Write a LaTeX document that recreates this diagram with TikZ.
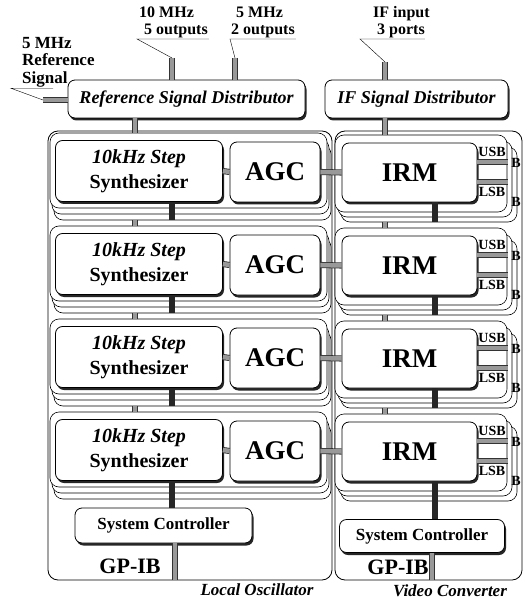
\documentclass[tikz,border=0pt]{standalone}
\usepackage{fontspec}
\setmainfont{Liberation Serif}
\usetikzlibrary{calc,positioning,shadows}
\newcommand{\synfont}{\fontsize{20}{25}\selectfont\bfseries}
\newcommand{\bigfont}{\fontsize{27}{30}\selectfont\bfseries}
\newcommand{\labfont}{\fontsize{17}{17.5}\selectfont\bfseries}

\tikzset{
  frame/.style={draw, thick, rounded corners=10pt, fill=white},
  card/.style={draw, semithick, rounded corners=9pt, fill=white},
  box/.style={draw, thick, rounded corners=7pt, fill=white, align=center, inner sep=0pt,
    drop shadow={shadow xshift=1.5pt, shadow yshift=-2.5pt, opacity=1, fill=black!85}},
  graybar/.style={draw=black!80, line width=0.8pt, double=black!40, double distance=4.5pt},
  darkbar/.style={draw=black!85, line width=6pt},
  lab/.style={font=\labfont, inner sep=1pt, align=left},
  toplab/.style={font=\fontsize{16}{17}\selectfont\bfseries, inner sep=1pt, align=left, anchor=south west}
}

\begin{document}
\begin{tikzpicture}[x=1pt,y=-1pt]
    \useasboundingbox (0,0) rectangle (525,601);
    \draw[frame] (48,131) rectangle (332,580);
    \draw[frame] (335,131) rectangle (522,580);
    \node[box, minimum width=237pt, minimum height=38pt, font=\fontsize{18}{20}\selectfont\bfseries\itshape] (ref) at (186.5,99) {Reference Signal Distributor};
    \node[box, minimum width=183pt, minimum height=38pt, font=\fontsize{18}{20}\selectfont\bfseries\itshape] (ifd) at (416.5,99) {IF Signal Distributor};
    \foreach \k in {1,...,4}{
      \pgfmathsetmacro{\y}{133+93*(\k-1)}
      % local oscillator row
      \draw[card] (54,\y+12) rectangle (331,\y+87);
      \draw[card] (52,\y+6) rectangle (329,\y+81);
      \node[card, minimum width=277pt, minimum height=75pt] (lo\k) at (188.5,\y+37.5) {};
      \node[box, minimum width=167pt, minimum height=61pt, font=\synfont] (syn\k) at (139,\y+38) {\textit{10kHz Step}\\Synthesizer};
      \node[box, minimum width=90pt, minimum height=60pt, font=\bigfont] (agc\k) at (275,\y+39) {AGC};
      \coordinate (bl\k) at (135,\y+87);
      \coordinate (dl\k) at (172,\y+87);
      % video converter row
      \draw[card] (341,\y+14) rectangle (517,\y+89);
      \draw[card] (338,\y+8) rectangle (512,\y+84);
      \node[card, minimum width=172pt, minimum height=77pt] (vc\k) at (421,\y+40.5) {};
      \node[box, minimum width=135pt, minimum height=59pt, font=\bigfont] (irm\k) at (409.5,\y+39.5) {IRM};
      \coordinate (bv\k) at (385,\y+89);
      \coordinate (dv\k) at (435,\y+89);
      \coordinate (ue\k) at (508,\y+29);
      \coordinate (le\k) at (508,\y+49);
      \draw[graybar] (syn\k.east) -- (agc\k.west);
      \draw[graybar] (agc\k.east) -- (irm\k.west);
      \draw[graybar] (irm\k.east |- ue\k) -- (ue\k);
      \draw[graybar] (irm\k.east |- le\k) -- (le\k);
      \node[font=\fontsize{14}{14}\selectfont\bfseries, inner sep=0pt] (usb\k) at (492,\y+19) {USB};
      \node[font=\fontsize{14}{14}\selectfont\bfseries, inner sep=0pt] (lsb\k) at (492,\y+59) {LSB};
      \node[font=\fontsize{14}{14}\selectfont\bfseries, inner sep=0pt] (ub\k) at (516,\y+30) {B};
      \node[font=\fontsize{14}{14}\selectfont\bfseries, inner sep=0pt] (lb\k) at (516,\y+69) {B};
    }
    \foreach \k in {1,2,3}{
      \draw[darkbar] (syn\k.south -| dl\k) -- (dl\k);
      \draw[darkbar] (irm\k.south -| dv\k) -- (dv\k);
    }
    \foreach \k/\j in {1/2,2/3,3/4}{
      \draw[graybar] (bl\k) -- (lo\j.north -| bl\k);
      \draw[graybar] (bv\k) -- (vc\j.north -| bv\k);
    }
    \draw[graybar] (ref.south -| bl1) -- (lo1.north -| bl1);
    \draw[graybar] (ifd.south -| bv1) -- (vc1.north -| bv1);
    % controllers
    \node[box, minimum width=177pt, minimum height=35pt, font=\labfont] (ctlL) at (163.5,525.5) {System Controller};
    \node[box, minimum width=165pt, minimum height=33pt, font=\labfont] (ctlV) at (422,536) {System Controller};
    \draw[darkbar] (syn4.south -| dl4) -- (ctlL.north -| dl4);
    \draw[darkbar] (irm4.south -| dv4) -- (ctlV.north -| dv4);
    \coordinate (gl) at (175,580);
    \coordinate (gv) at (432,580);
    \draw[graybar] (ctlL.south -| gl) -- (gl);
    \draw[graybar] (ctlV.south -| gv) -- (gv);
    \node[font=\fontsize{22}{22}\selectfont\bfseries] (gpL) at (130,566) {GP-IB};
    \node[font=\fontsize{22}{22}\selectfont\bfseries] (gpV) at (398,567) {GP-IB};
    % inputs and outputs
    \node[toplab] (o5) at (138,39) {10 MHz\\\hspace*{5pt}5 outputs};
    \node[toplab] (o2) at (230,39) {\hspace*{5pt}5 MHz\\2 outputs};
    \node[toplab] (p3) at (372,39) {IF input\\\hspace*{4pt}3 ports};
    \node[lab, anchor=north west] (rsig) at (21,36) {5 MHz\\Reference\\Signal};
    \coordinate (t10) at (172,58);
    \coordinate (t5) at (235,58);
    \coordinate (tif) at (385,62);
    \coordinate (rin) at (43,100);
    \draw[graybar] (t10) -- (ref.north -| t10);
    \draw[graybar] (t5) -- (ref.north -| t5);
    \draw[graybar] (tif) -- (ifd.north -| tif);
    \draw[graybar] (rin) -- (ref.west |- rin);
    \draw (o5.south east) -- ($(o5.south west)+(-1,0)$) -- (t10);
    \draw (o2.south east) -- ($(o2.south west)+(0,0)$) -- (t5);
    \draw ($(p3.south east)+(-6,0)$) -- ($(p3.south west)+(-12,0)$) -- (tif);
    \draw ($(rsig.south west)+(32,0)$) -- ($(rsig.south west)+(-10,0)$) -- (rin);
    \node[font=\fontsize{17}{17}\selectfont\bfseries\itshape] (lo) at (257,590) {Local Oscillator};
    \node[font=\fontsize{17}{17}\selectfont\bfseries\itshape] (vc) at (450,591) {Video Converter};
\end{tikzpicture}
\end{document}
